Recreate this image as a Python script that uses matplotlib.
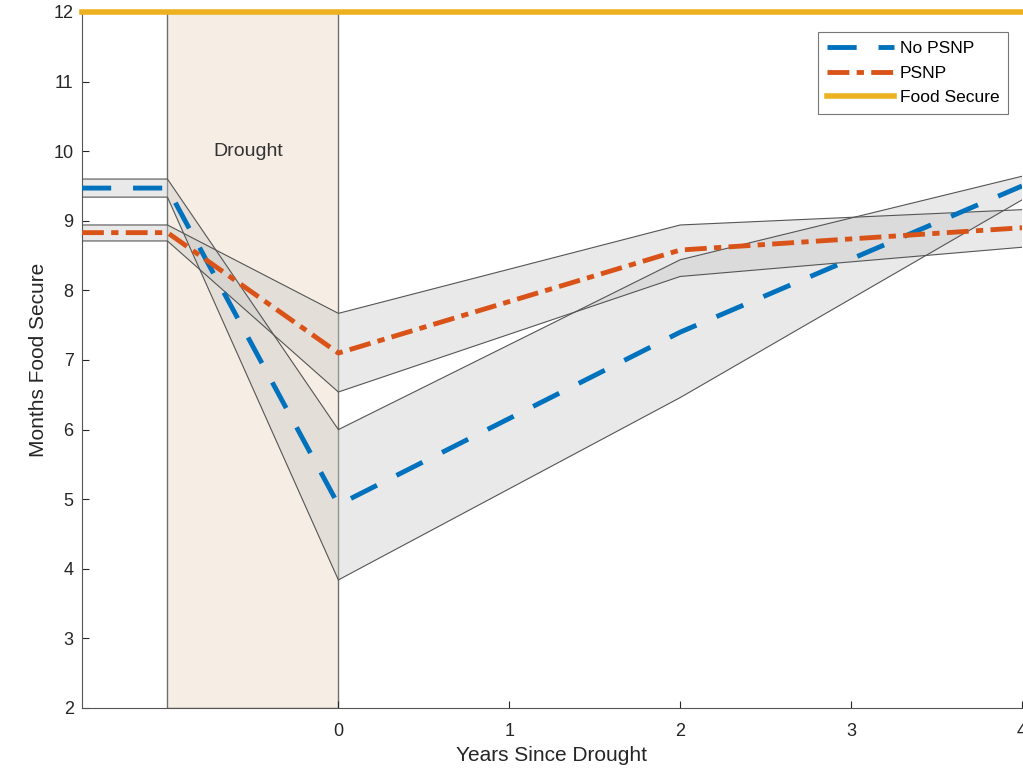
import matplotlib.pyplot as plt
import numpy as np

plt.rcParams['font.family'] = ['Liberation Sans', 'DejaVu Sans']

# years since drought (axis starts at -1.5, drought spans -1..0)
years = [-1.5, -1, 0, 2, 4]

no_psnp_mean = [9.47, 9.47, 4.92, 7.40, 9.50]
no_psnp_lo = [9.34, 9.34, 3.84, 6.46, 9.30]
no_psnp_hi = [9.60, 9.60, 6.00, 8.44, 9.64]

psnp_mean = [8.83, 8.83, 7.10, 8.58, 8.90]
psnp_lo = [8.71, 8.71, 6.54, 8.20, 8.62]
psnp_hi = [8.94, 8.94, 7.67, 8.94, 9.16]

food_secure = 12
drought_span = (-1, 0)

xticks = [0, 1, 2, 3, 4]
yticks = list(range(2, 13))

blue = "#0072BD"
orange = "#D95319"
yellow = "#EDB120"

fig = plt.figure(figsize=(10.23, 7.71), dpi=100)
ax = fig.add_axes([82 / 1023, 1 - 708 / 771, 940 / 1023, 696 / 771])

# drought period
ax.axvspan(*drought_span, facecolor="#F6EDE4", edgecolor="#6E6E6E", lw=1.0, zorder=0)
ax.text(-0.53, 10, "Drought", ha="center", va="center", fontsize=14, color="#333333")

# confidence bands
for lo, hi in [(no_psnp_lo, no_psnp_hi), (psnp_lo, psnp_hi)]:
    ax.fill_between(years, lo, hi, facecolor="#C8C8C8", alpha=0.4, edgecolor="none", zorder=1)
    ax.plot(years, lo, color="#555555", lw=0.8, zorder=2)
    ax.plot(years, hi, color="#555555", lw=0.8, zorder=2)

ax.plot(years, no_psnp_mean, color=blue, lw=3.5, dashes=(6, 4.5), label="No PSNP", zorder=3)
ax.plot(years, psnp_mean, color=orange, lw=3.5, dashes=(4.5, 1.5, 1.5, 1.5), label="PSNP", zorder=3)
ax.axhline(food_secure, color=yellow, lw=4, label="Food Secure", zorder=4, clip_on=False)

ax.set_xlim(-1.5, 4)
ax.set_ylim(2, 12)
ax.set_xticks(xticks)
ax.set_yticks(yticks)
ax.tick_params(direction="in", length=5, labelsize=13, colors="#262626")
ax.tick_params(axis="x", pad=11)
ax.tick_params(axis="y", pad=6)
ax.set_xlabel("Years Since Drought", fontsize=15, color="#262626", labelpad=4)
ax.set_ylabel("Months Food Secure", fontsize=15, color="#262626", labelpad=4)

ax.spines['top'].set_visible(False)
ax.spines['right'].set_visible(False)
for s in ['left', 'bottom']:
    ax.spines[s].set_color("#555555")

leg = ax.legend(loc="upper right", bbox_to_anchor=(0.985, 0.971), fontsize=12.5,
                handlelength=3.9, frameon=True, fancybox=False, borderpad=0.5,
                labelspacing=0.55, handletextpad=0.3, borderaxespad=0)
leg.get_frame().set_edgecolor("#555555")
leg.get_frame().set_linewidth(0.8)

fig.savefig("out.png", dpi=100, facecolor="white")
